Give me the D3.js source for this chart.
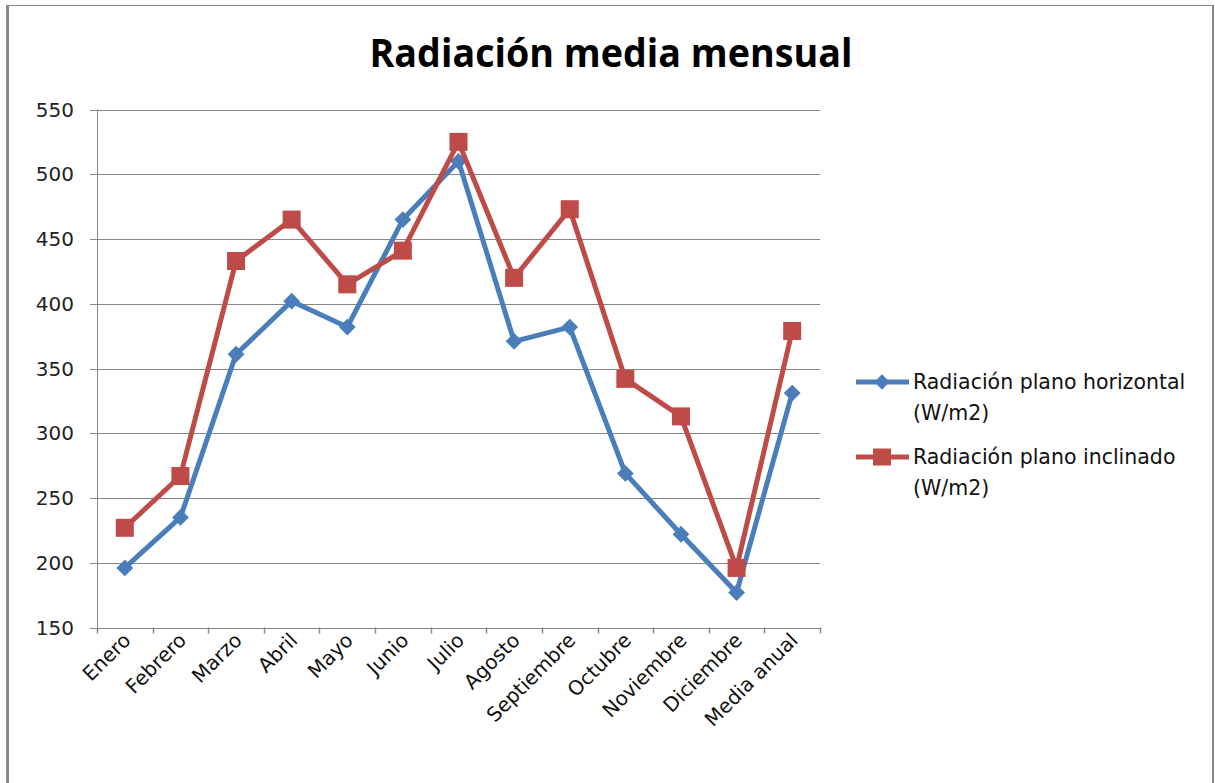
<!DOCTYPE html>
<html>
<head>
<meta charset="utf-8">
<script src="https://cdn.jsdelivr.net/npm/d3@7"></script>
<style>
  html, body { margin: 0; padding: 0; background: #fff; }
  svg { display: block; }
</style>
</head>
<body>
<svg id="chart" width="1215" height="783"></svg>
<script>
const categories = ["Enero","Febrero","Marzo","Abril","Mayo","Junio","Julio","Agosto","Septiembre","Octubre","Noviembre","Diciembre","Media anual"];
const horizontal = [196, 235, 361, 402, 382, 465, 510, 371, 382, 269, 222, 177, 331];
const inclinado  = [227, 267, 433, 465, 415, 441, 525, 420, 473, 342, 313, 196, 379];
const yTicks = [150, 200, 250, 300, 350, 400, 450, 500, 550];
const seriesNames = [["Radiación plano horizontal", "(W/m2)"], ["Radiación plano inclinado", "(W/m2)"]];
const title = "Radiación media mensual";

const svg = d3.select("#chart");
const W = 1215, H = 783;
const m = {left: 97, right: 820, top: 109.5, bottom: 627.5};

// outer frame
svg.append("rect").attr("x", 0).attr("y", 0).attr("width", W).attr("height", H).attr("fill", "#fff");
svg.append("line").attr("x1", 6).attr("x2", 1214).attr("y1", 5.5).attr("y2", 5.5).attr("stroke", "#888").attr("stroke-width", 1);
svg.append("rect").attr("x", 6).attr("y", 5).attr("width", 3).attr("height", H).attr("fill", "#888");
svg.append("rect").attr("x", 1212).attr("y", 5).attr("width", 2).attr("height", H).attr("fill", "#888");

const x = d3.scaleBand().domain(categories).range([m.left, m.right]).padding(0);
const y = d3.scaleLinear().domain([150, 550]).range([m.bottom, m.top]);

// gridlines
svg.append("g").selectAll("line").data(yTicks).join("line")
  .attr("x1", m.left - 7).attr("x2", m.right)
  .attr("y1", d => Math.round(y(d)) + 0.5).attr("y2", d => Math.round(y(d)) + 0.5)
  .attr("stroke", "#868686").attr("stroke-width", 1);

// y axis line
svg.append("line").attr("x1", m.left + 0.5).attr("x2", m.left + 0.5)
  .attr("y1", m.top).attr("y2", m.bottom).attr("stroke", "#868686");

// y labels
svg.append("g").selectAll("text").data(yTicks).join("text")
  .attr("x", 74).attr("y", d => y(d))
  .attr("dy", "0.36em")
  .attr("text-anchor", "end")
  .attr("font-family", "DejaVu Sans")
  .attr("font-size", 20)
  .attr("fill", "#222")
  .text(d => d);

// x ticks
const bounds = categories.map(c => x(c)).concat([m.right]);
svg.append("g").selectAll("line").data(bounds).join("line")
  .attr("x1", d => Math.round(d) + 0.5).attr("x2", d => Math.round(d) + 0.5)
  .attr("y1", m.bottom).attr("y2", m.bottom + 6)
  .attr("stroke", "#868686").attr("stroke-width", 1.5);

// x labels
svg.append("g").selectAll("text").data(categories).join("text")
  .attr("transform", d => `translate(${x(d) + x.bandwidth() / 2 + 7},${m.bottom + 14}) rotate(-45)`)
  .attr("text-anchor", "end")
  .attr("font-family", "DejaVu Sans")
  .attr("font-size", 20)
  .attr("fill", "#111")
  .text(d => d);

const cx = (d, i) => x(categories[i]) + x.bandwidth() / 2;
const line = d3.line().x((d, i) => cx(d, i)).y(d => y(d));

const blue = "#4a7ebb", red = "#be4b48";

svg.append("path").datum(horizontal).attr("d", line)
  .attr("fill", "none").attr("stroke", blue).attr("stroke-width", 5).attr("stroke-linejoin", "round");
svg.append("g").selectAll("path").data(horizontal).join("path")
  .attr("d", d3.symbol().type(d3.symbolDiamond2).size(180))
  .attr("transform", (d, i) => `translate(${cx(d, i)},${y(d)})`)
  .attr("fill", blue);

svg.append("path").datum(inclinado).attr("d", line)
  .attr("fill", "none").attr("stroke", red).attr("stroke-width", 5).attr("stroke-linejoin", "round");
svg.append("g").selectAll("rect").data(inclinado).join("rect")
  .attr("x", (d, i) => cx(d, i) - 9).attr("y", d => y(d) - 9)
  .attr("width", 18).attr("height", 18)
  .attr("fill", red);

// title
svg.append("text").attr("x", 611).attr("y", 67)
  .attr("text-anchor", "middle")
  .attr("font-family", "Open Sans")
  .attr("font-weight", "bold")
  .attr("font-size", 39)
  .attr("textLength", 483).attr("lengthAdjust", "spacingAndGlyphs")
  .attr("fill", "#000")
  .text(title);

// legend
const legY = [382, 457];
const lg = svg.append("g");
[blue, red].forEach((col, i) => {
  lg.append("line").attr("x1", 856).attr("x2", 909).attr("y1", legY[i]).attr("y2", legY[i])
    .attr("stroke", col).attr("stroke-width", 5);
  if (i === 0) {
    lg.append("path").attr("d", d3.symbol().type(d3.symbolDiamond2).size(150)())
      .attr("transform", `translate(882,${legY[i]})`).attr("fill", col);
  } else {
    lg.append("rect").attr("x", 873).attr("y", legY[i] - 8.5).attr("width", 18).attr("height", 17).attr("fill", col);
  }
  seriesNames[i].forEach((t, j) => {
    lg.append("text").attr("x", 913).attr("y", legY[i] + 7 + j * 31)
      .attr("font-family", "DejaVu Sans").attr("font-size", 20.5).attr("fill", "#111")
      .text(t);
  });
});
</script>
</body>
</html>
